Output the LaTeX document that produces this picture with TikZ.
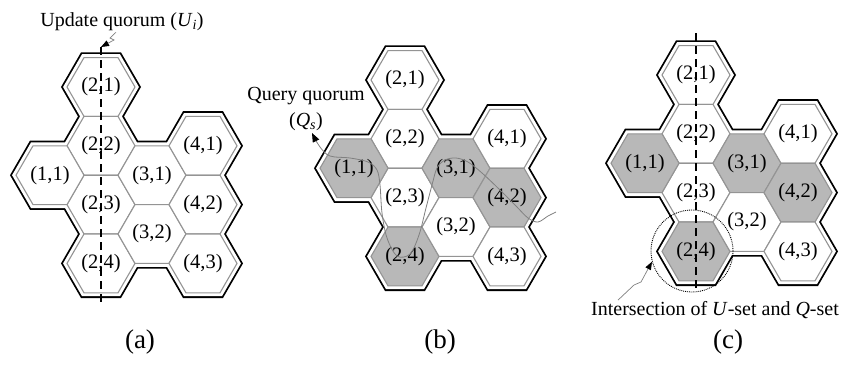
\documentclass[tikz,border=0pt]{standalone}
\usepackage{fontspec}
\setmainfont{Liberation Serif}
\usetikzlibrary{arrows.meta}

\tikzset{
  rim/.style={draw=white, line width=6.8pt, line join=miter,
    preaction={draw=black, line width=10.4pt, line join=miter}},
  cell/.style={draw=black!42, line width=1.1pt, fill=white},
  member/.style={fill=black!28},
  celltext/.style={font=\fontsize{20.5}{23}\selectfont, inner sep=0pt},
  note/.style={font=\fontsize{20}{26}\selectfont, inner sep=1pt},
  panelcap/.style={font=\fontsize{27}{30}\selectfont},
  quorum/.style={line width=1.4pt, dash pattern=on 8pt off 5pt},
  leader/.style={draw=black!50, line width=0.7pt, -{Triangle[length=8pt,width=6pt,color=black]}},
  qline/.style={draw=black!50, line width=0.8pt, {Triangle[length=9pt,width=7pt,color=black]}-},
  ring/.style={circle, draw, densely dotted, line width=0.9pt, minimum size=82pt, inner sep=0pt},
}

% the ten cells of the grid, with a double rim round them
\newcommand\hexgrid[1]{%
  \path[rim] (-0.5,-1) -- (0.5,-1) -- (1,0) -- (0.5,1) -- (1,2) -- (2,2) -- (2.5,1) -- (3.5,1)
    -- (4,2) -- (3.5,3) -- (4,4) -- (3.5,5) -- (4,6) -- (3.5,7) -- (2.5,7) -- (2,6) -- (1,6)
    -- (0.5,7) -- (-0.5,7) -- (-1,6) -- (-0.5,5) -- (-1,4) -- (-2,4) -- (-2.5,3) -- (-2,2)
    -- (-1,2) -- (-0.5,1) -- (-1,0) -- cycle;
  \foreach \i/\j/\cx/\cy in {2/1/0/0, 2/2/0/2, 2/3/0/4, 2/4/0/6, 1/1/-1.5/3,
      3/1/1.5/3, 3/2/1.5/5, 4/1/3/2, 4/2/3/4, 4/3/3/6} {
    \draw[cell, c\i\j/.try] (\cx-1,\cy) -- (\cx-0.5,\cy-1) -- (\cx+0.5,\cy-1) -- (\cx+1,\cy)
      -- (\cx+0.5,\cy+1) -- (\cx-0.5,\cy+1) -- cycle;
    \node[celltext] (#1\i\j) at (\cx,\cy) {(\i,\j)};
  }%
}

\begin{document}
\begin{tikzpicture}[x=1pt, y=-1pt]
  \useasboundingbox (0,0) rectangle (846,367);

  % (a) update quorum
  \begin{scope}[shift={(101,87)}, x=34pt, y=-29.4pt]
    \hexgrid{a}
  \end{scope}
  \coordinate (ua) at (101,47);
  \coordinate (ub) at (101,303);
  \draw[quorum] (ua) -- (ub);
  \node[note] (uq) at (122,22) {Update quorum (\textit{U}\textsubscript{\textit{i}})};
  \draw[leader] ([xshift=-6pt]uq.south) -- (110,38) -- (114,40) -- (ua);
  \node[panelcap] (capa) at (140,342) {(a)};

  % (b) query quorum
  \begin{scope}[shift={(405,80)}, x=34pt, y=-29.4pt,
      c11/.style=member, c31/.style=member, c42/.style=member, c24/.style=member]
    \hexgrid{b}
  \end{scope}
  \node[note, align=center] (qq) at (306,109) {Query quorum\\(\textit{Q}\textsubscript{\textit{s}})};
  \coordinate (qtip) at (312,133);
  \draw[qline] plot[smooth, tension=0.55] coordinates {(qtip) (320,147) (330,156) (350,158)
    (368,162) (377,170) (380,185) (382,213) (387,238) (397,256) (410,254) (419,235)
    (426,208) (432,185) (437,168) (445,160) (456,158) (468,162) (482,173) (500,190)
    (516,206) (528,218) (538,222) (548,216) (556,212)};
  \node[panelcap] (capb) at (440,342) {(b)};

  % (c) both quorums meet in cell (2,4)
  \begin{scope}[shift={(696,75)}, x=34pt, y=-29.4pt,
      c11/.style=member, c31/.style=member, c42/.style=member, c24/.style=member]
    \hexgrid{c}
  \end{scope}
  \coordinate (uc) at (696,33);
  \coordinate (ud) at (696,290);
  \draw[quorum] (uc) -- (ud);
  \node[ring] (isect) at (692,251) {};
  \node[note] (iq) at (715,310) {Intersection of \textit{U}-set and \textit{Q}-set};
  \draw[leader] ([xshift=28pt]iq.north west) -- (634,285) -- (641,282) -- (isect.195);
  \node[panelcap] (capc) at (728,342) {(c)};
\end{tikzpicture}
\end{document}
